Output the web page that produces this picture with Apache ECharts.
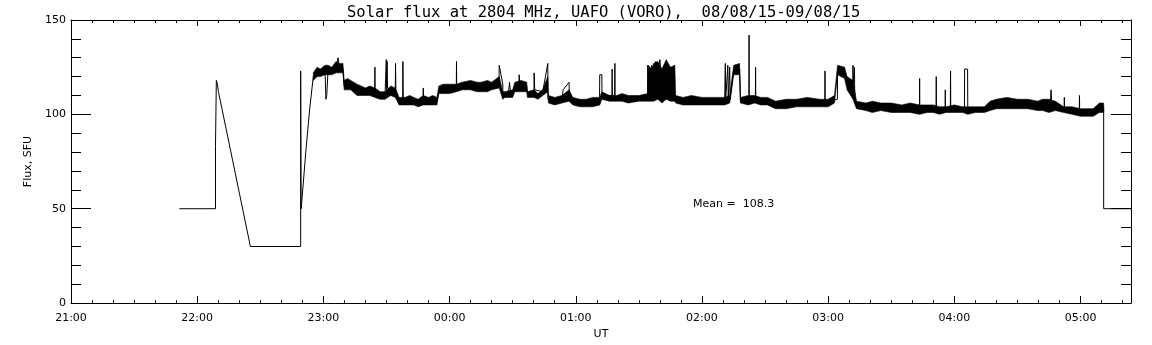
<!DOCTYPE html>
<html>
<head>
<meta charset="utf-8">
<script src="https://cdn.jsdelivr.net/npm/echarts@6/dist/echarts.min.js"></script>
<style>
  html, body { margin: 0; padding: 0; background: #fff; }
  #chart { width: 1152px; height: 345px; }
</style>
</head>
<body>
<div id="chart"></div>
<script>
// time is minutes after 21:00 UT, flux in SFU
var hourLabels = ['21:00', '22:00', '23:00', '00:00', '01:00', '02:00', '03:00', '04:00', '05:00']

// main trace (thin line), incl. the gaps at the start and the isolated spikes
var fluxTime = [
  51.5, 68.7, 68.7, 69.1, 69.1, 69.6, 70.1, 85.3, 109.2, 109.2, 109.4, 109.6, 111.7, 113.6, 115.2,
  117, 120.8, 121.2, 121.6, 122.2, 126, 127, 127.5, 129.3, 129.9, 136, 140, 144.4, 144.5, 144.6,
  149.3, 149.9, 150.1, 150.3, 150.5, 154.2, 154.3, 154.5, 156, 157.7, 157.8, 158, 167.3, 167.5, 167.7,
  174, 174.9, 183.2, 183.3, 183.4, 190, 203.5, 203.6, 205.3, 205.3, 208, 208.5, 209, 213, 213.1, 213.3,
  216.7, 217, 220.1, 220.2, 220.5, 224.3, 226.7, 226.8, 233.4, 234, 236.8, 237, 238.6, 251.3, 251.4,
  252.4, 252.5, 257.2, 257.3, 257.4, 258.5, 258.6, 258.7, 274.1, 274.2, 275, 276, 277, 278, 279, 280,
  281, 282, 283, 284, 285, 286, 287, 300, 310.8, 311.1, 311.3, 312.3, 312.5, 313.2, 313.4, 315.1, 317.9,
  318.3, 322.3, 322.4, 322.5, 325.4, 325.5, 325.6, 331.2, 335, 355.9, 358.4, 358.5, 358.6, 364.4, 364.5,
  367.8, 370, 371.7, 371.8, 372, 372.5, 372.7, 373.5, 403.4, 403.5, 403.6, 411.3, 411.4, 411.5, 415.6,
  415.7, 415.8, 418.1, 418.2, 418.3, 424.8, 424.9, 426.3, 426.4, 434.3, 440, 459.5, 465.7, 466, 466.3,
  472.2, 472.3, 472.4, 479.4, 479.5, 479.6, 486, 489, 491, 491, 504
]
var fluxValue = [
  50, 50, 83, 83, 118, 116, 112, 30, 30, 123, 50, 52, 81, 104, 120,
  122, 123, 108, 110, 123, 125, 130, 125, 124, 115, 113, 112, 112, 125, 111,
  110, 129, 113, 128, 114, 112, 127, 111, 107, 107, 128, 107, 107, 114, 107,
  107, 113, 113, 128, 114, 115, 116, 126, 116, 110, 111, 117, 111, 114, 121, 114,
  115, 111, 111, 122, 113, 112, 127, 108, 108, 113, 117, 110, 107, 107, 121,
  121, 110, 110, 124, 110, 110, 127, 109, 109, 126, 110, 126, 110, 128, 112, 129,
  110, 126, 112, 124, 110, 122, 108, 107, 107, 127, 108, 126, 108, 125, 108, 124, 124,
  107, 107, 142, 107, 108, 125, 108, 107, 105, 106, 106, 123, 106, 108, 124,
  122, 117, 114, 126, 116, 125, 106, 104, 103, 119, 103, 102, 120, 103, 102,
  113, 102, 103, 123, 103, 103, 124, 124, 102, 102, 106, 105, 107, 113, 105,
  103, 109, 103, 102, 110, 101, 101, 104, 104, 50, 50
]

// noise band of the receiver trace: upper and lower edge
var bandTime = [
  115.2, 117, 118.5, 120.8, 122.2, 124, 126, 127.5, 129.3, 129.9, 131.5, 133, 136, 138, 140, 142, 144.5,
  147, 149.3, 152, 154.2, 156, 158.8, 161, 163, 165, 167.5, 170, 172, 174, 174.9, 177, 180, 183.3, 186,
  190, 193, 195, 198, 200, 203.6, 205.3, 206.3, 210, 211, 214, 216.7, 217, 220.2, 222, 224.3, 226.7,
  227, 230, 233.4, 236.8, 238.6, 242, 245, 248, 251.4, 252.4, 256, 259.5, 262, 265, 270, 274.2,
  274.5, 276, 277, 279, 281, 283, 285, 287.1, 287.5, 291, 295, 300, 305, 310.8, 313.2, 315.1, 317.9,
  318.3, 322, 325, 328, 331.2, 335, 340, 345, 350, 355.9, 360, 363, 364.5, 367.8, 369, 371.8, 373.5,
  378, 381, 385, 390, 395, 399, 403.5, 407, 410, 413, 416, 420, 424, 426.3, 430, 434.3, 437, 440, 445,
  450, 455, 459.5, 462, 465, 468, 472, 476, 480, 483, 486, 489, 491
]
var bandHigh = [
  122, 125, 124, 126, 126, 125, 128, 127, 127, 118, 119, 118, 116, 115, 114, 115, 114,
  112, 112, 115, 114, 109, 109, 110, 109, 108, 110, 109, 110, 109, 115, 116, 116, 116, 117,
  118, 117, 117, 118, 117, 120, 112, 112, 113, 117, 118, 117, 112, 113, 111, 113, 120,
  110, 109, 110, 113, 109, 108, 108, 109, 109, 112, 110, 110, 111, 110, 110, 111,
  126, 124, 127, 128, 124, 129, 125, 126, 110, 109, 110, 109, 109, 109, 110, 126, 127,
  109, 110, 110, 109, 109, 107, 108, 108, 109, 108, 108, 110, 126, 125, 120, 118, 107,
  106, 107, 106, 106, 105, 106, 105, 105, 105, 104, 104, 105, 104, 104, 104, 104, 107, 108, 109,
  108, 108, 107, 108, 108, 107, 104, 104, 103, 103, 103, 106, 106
]
var bandLow = [
  118, 120, 120, 121, 121, 121, 122, 122, 122, 113, 113, 113, 110, 110, 110, 110, 109,
  108, 108, 110, 109, 105, 105, 105, 105, 104, 105, 105, 105, 105, 111, 111, 111, 112, 113,
  113, 112, 112, 112, 113, 114, 108, 109, 109, 112, 112, 112, 109, 109, 108, 110, 112,
  106, 105, 106, 107, 105, 104, 104, 104, 105, 108, 107, 107, 107, 106, 107, 107,
  107, 107, 107, 108, 106, 108, 107, 107, 106, 105, 105, 105, 105, 105, 106, 121, 121,
  106, 105, 106, 105, 105, 103, 103, 104, 104, 104, 104, 106, 121, 119, 113, 108, 103,
  102, 101, 102, 101, 101, 101, 100, 101, 101, 100, 101, 101, 101, 100, 101, 101, 102, 103, 103,
  103, 103, 102, 102, 101, 102, 101, 100, 99, 99, 99, 101, 101
]

var meanText = 'Mean =  108.3'

var fluxData = fluxTime.map(function (t, i) { return [t, fluxValue[i]] })

function renderBand(params, api) {
  var pts = []
  for (var i = 0; i < bandTime.length; i++) {
    pts.push(api.coord([bandTime[i], bandHigh[i]]))
  }
  for (var j = bandTime.length - 1; j >= 0; j--) {
    pts.push(api.coord([bandTime[j], bandLow[j]]))
  }
  return {
    type: 'polygon',
    shape: { points: pts },
    style: { fill: '#000', stroke: '#000', lineWidth: 0.6 }
  }
}

var font = 'DejaVu Sans'
var axisLine = { show: true, onZero: false, lineStyle: { color: '#000', width: 1 } }

var option = {
  animation: false,
  backgroundColor: '#fff',
  textStyle: { fontFamily: font, color: '#000' },
  title: {
    text: 'Solar flux at 2804 MHz, UAFO (VORO),  08/08/15-09/08/15',
    left: 342,
    top: 0,
    textStyle: { fontFamily: 'DejaVu Sans Mono', fontSize: 15.5, fontWeight: 'normal', color: '#000' }
  },
  grid: { left: 71, right: 21, top: 20, bottom: 41, containLabel: false },
  xAxis: [
    {
      type: 'value',
      position: 'bottom',
      min: 0,
      max: 504,
      interval: 60,
      name: 'UT',
      nameLocation: 'middle',
      nameGap: 18,
      nameTextStyle: { fontFamily: font, fontSize: 11, color: '#000' },
      axisLine: axisLine,
      axisTick: { inside: true, length: 7, lineStyle: { color: '#000' } },
      minorTick: { show: true, splitNumber: 6, length: 3, lineStyle: { color: '#000' } },
      splitLine: { show: false },
      axisLabel: {
        margin: 10,
        fontFamily: font,
        fontSize: 11,
        color: '#000',
        showMaxLabel: false,
        formatter: function (v) { return hourLabels[Math.round(v / 60)] || '' }
      }
    },
    {
      type: 'value',
      position: 'top',
      min: 0,
      max: 504,
      interval: 60,
      axisLine: axisLine,
      axisTick: { inside: true, length: 6, lineStyle: { color: '#000' } },
      minorTick: { show: true, splitNumber: 6, length: 3, lineStyle: { color: '#000' } },
      splitLine: { show: false },
      axisLabel: { show: false }
    }
  ],
  yAxis: [
    {
      type: 'value',
      position: 'left',
      min: 0,
      max: 150,
      interval: 50,
      name: 'Flux, SFU',
      nameLocation: 'middle',
      nameGap: 30,
      nameTextStyle: { fontFamily: font, fontSize: 11, color: '#000' },
      axisLine: axisLine,
      axisTick: { inside: true, length: 20, lineStyle: { color: '#000' } },
      minorTick: { show: true, splitNumber: 5, length: 10, lineStyle: { color: '#000' } },
      splitLine: { show: false },
      axisLabel: { margin: 5, fontFamily: font, fontSize: 11, color: '#000' }
    },
    {
      type: 'value',
      position: 'right',
      min: 0,
      max: 150,
      interval: 50,
      axisLine: axisLine,
      axisTick: { inside: true, length: 20, lineStyle: { color: '#000' } },
      minorTick: { show: true, splitNumber: 5, length: 10, lineStyle: { color: '#000' } },
      splitLine: { show: false },
      axisLabel: { show: false }
    }
  ],
  graphic: [
    {
      type: 'text',
      left: 693,
      top: 199,
      style: { text: meanText, fontFamily: font, fontSize: 11, fill: '#000' }
    }
  ],
  series: [
    {
      type: 'custom',
      name: 'band',
      xAxisIndex: 0,
      yAxisIndex: 0,
      clip: true,
      renderItem: renderBand,
      data: [[bandTime[0], bandHigh[0]]]
    },
    {
      type: 'line',
      name: 'flux',
      xAxisIndex: 0,
      yAxisIndex: 0,
      showSymbol: false,
      symbol: 'none',
      clip: true,
      lineStyle: { color: '#000', width: 1 },
      data: fluxData
    }
  ]
}

var myChart = echarts.init(document.getElementById('chart'))
myChart.setOption(option, true)
</script>
</body>
</html>
